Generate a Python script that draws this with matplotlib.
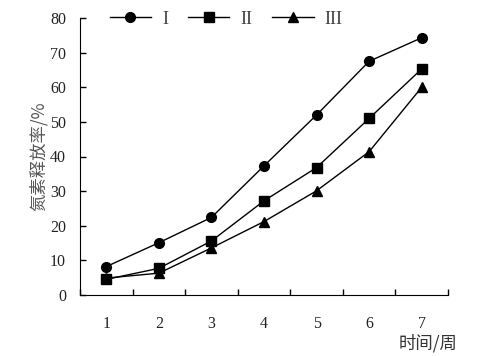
import matplotlib.pyplot as plt
import numpy as np

weeks = [1, 2, 3, 4, 5, 6, 7]
week_labels = ['1', '2', '3', '4', '5', '6', '7']
serie_1 = [8.2, 15.1, 22.4, 37.3, 52.0, 67.5, 74.3]
serie_2 = [4.5, 7.7, 15.6, 27.2, 36.8, 51.0, 65.3]
serie_3 = [4.9, 6.3, 13.6, 21.2, 30.1, 41.4, 60.0]
nombres = ['I', 'II', 'III']

plt.rcParams['font.family'] = ['Liberation Serif', 'Noto Sans CJK SC']

fig = plt.figure(figsize=(4.9, 3.56), dpi=100)
ax = fig.add_axes([80/490, 1-295/356, 368/490, 277/356])

# series con sus marcadores
ax.plot(weeks, serie_1, color='black', lw=1, marker='o', ms=7, label=nombres[0])
ax.plot(weeks, serie_2, color='black', lw=1, marker='s', ms=7, label=nombres[1])
ax.plot(weeks, serie_3, color='black', lw=1, marker='^', ms=7, label=nombres[2])

ax.set_xlim(0.5, 7.5)
ax.set_ylim(0, 80)
ax.set_yticks(np.arange(0, 81, 10))
ax.set_xticks(weeks)
ax.set_xticklabels(week_labels)
ax.set_xticks(np.arange(0.5, 8, 1), minor=True)

ax.spines['top'].set_visible(False)
ax.spines['right'].set_visible(False)
ax.tick_params(axis='x', which='major', length=0, pad=15, labelsize=11.5, labelcolor='#222222')
ax.tick_params(axis='x', which='minor', direction='in', length=4.5, width=1)
ax.tick_params(axis='y', direction='in', length=4.5, width=1, pad=10, labelsize=11.5,
               labelcolor='#222222')

ax.set_ylabel('氮素释放率/%', family=['Noto Sans CJK SC'], fontsize=12.5, color='#555555',
              labelpad=2)
fig.text(428/490, 1-343/356, '时间/周', family=['Noto Sans CJK SC'], fontsize=12.5,
         color='#333333', ha='center', va='center')

leg = fig.legend(loc='center', bbox_to_anchor=(226/490, 1-19/356), ncol=3, frameon=False,
                 handlelength=2.3, columnspacing=1.1, handletextpad=0.6, fontsize=13)
for t in leg.get_texts():
    t.set_color('#444444')

fig.savefig('out.png', dpi=100)
